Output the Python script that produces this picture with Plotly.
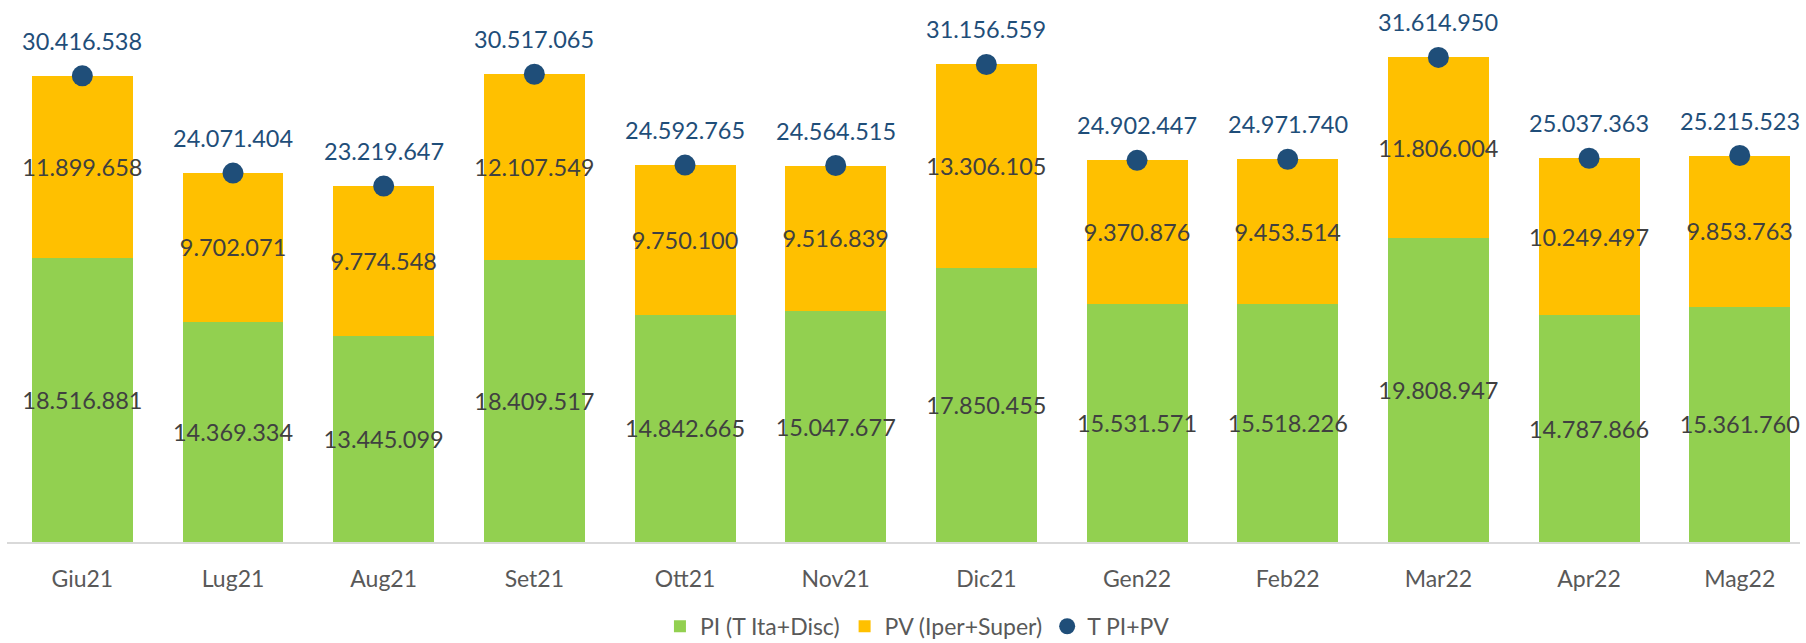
import plotly.graph_objects as go

months = ["Giu21", "Lug21", "Aug21", "Set21", "Ott21", "Nov21", "Dic21", "Gen22", "Feb22", "Mar22", "Apr22", "Mag22"]
pi_vals = [18516881, 14369334, 13445099, 18409517, 14842665, 15047677, 17850455, 15531571, 15518226, 19808947, 14787866, 15361760]
pv_vals = [11899658, 9702071, 9774548, 12107549, 9750100, 9516839, 13306105, 9370876, 9453514, 11806004, 10249497, 9853763]
tot_vals = [30416538, 24071404, 23219647, 30517065, 24592765, 24564515, 31156559, 24902447, 24971740, 31614950, 25037363, 25215523]

GREEN = "#92D050"
ORANGE = "#FFC000"
BLUE = "#1F4E79"
FONT = "Lato"

def fmt(v):
    return f"{v:,}".replace(",", ".")

fig = go.Figure()
fig.add_trace(go.Bar(
    x=months, y=pi_vals, name="PI (T Ita+Disc)", marker=dict(color=GREEN, line=dict(width=0)),
    text=[fmt(v) for v in pi_vals], textposition="inside", insidetextanchor="middle",
    textfont=dict(family=FONT, size=23.5, color="#404040"), textangle=0, hoverinfo="skip",
))
fig.add_trace(go.Bar(
    x=months, y=pv_vals, name="PV (Iper+Super)", marker=dict(color=ORANGE, line=dict(width=0)),
    text=[fmt(v) for v in pv_vals], textposition="inside", insidetextanchor="middle",
    textfont=dict(family=FONT, size=23.5, color="#404040"), textangle=0, hoverinfo="skip",
))
fig.add_trace(go.Scatter(
    x=months, y=tot_vals, name="T PI+PV", mode="markers",
    marker=dict(color=BLUE, size=21), hoverinfo="skip",
))
for m, t in zip(months, tot_vals):
    fig.add_annotation(x=m, y=t, text=fmt(t), showarrow=False, yshift=35,
                       font=dict(family=FONT, size=23.5, color=BLUE))

fig.update_layout(
    width=1806, height=643,
    barmode="stack", bargap=0.33,
    plot_bgcolor="white", paper_bgcolor="white",
    margin=dict(l=7, r=6, t=10, b=101, autoexpand=False),
    uniformtext=dict(minsize=23, mode="show"),
    font=dict(family=FONT, color="#595959"),
    xaxis=dict(range=[-0.5, 11.4], showline=True, linecolor="#D9D9D9", linewidth=2,
               ticks="", showgrid=False, tickfont=dict(family=FONT, size=23, color="#595959"),
               ticklabelstandoff=15),
    yaxis=dict(range=[0, 34.71e6], visible=False, showgrid=False),
    legend=dict(orientation="h", xref="container", yref="container",
                x=0.508, xanchor="center", y=0.026, yanchor="middle",
                font=dict(family=FONT, size=23, color="#595959"),
                traceorder="normal"),
    showlegend=True,
)

fig.write_html("out.html", config={"displayModeBar": False},
               post_script="document.body.style.margin='0';document.body.style.overflow='hidden';")
